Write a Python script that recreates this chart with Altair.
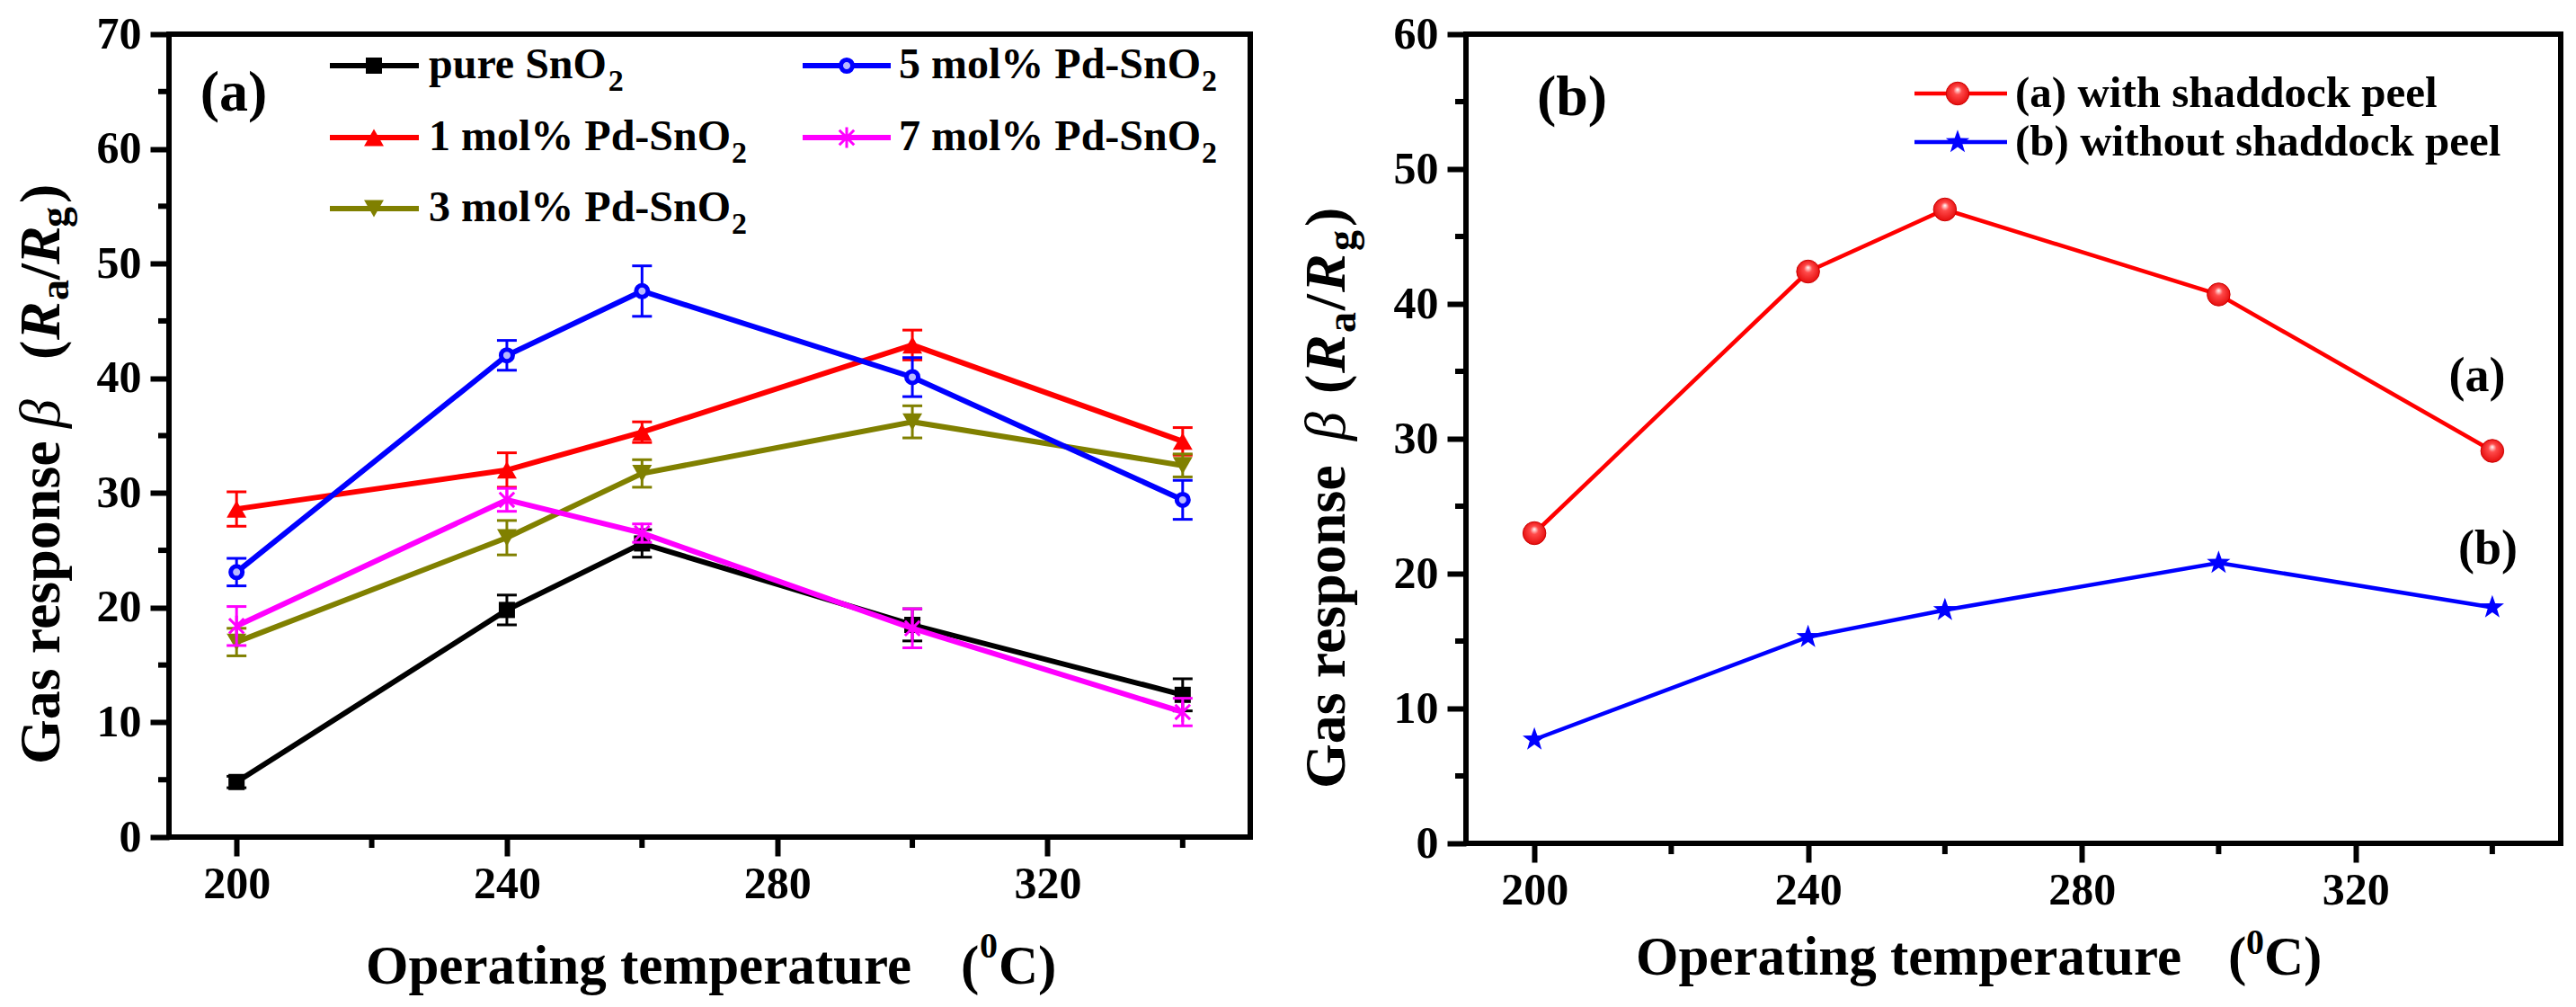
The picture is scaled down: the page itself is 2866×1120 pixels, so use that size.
import altair as alt
import pandas as pd

# ---------------- data ----------------
temps = [200, 240, 260, 300, 340]

names_a = ["pure SnO₂", "1 mol% Pd-SnO₂", "3 mol% Pd-SnO₂", "5 mol% Pd-SnO₂", "7 mol% Pd-SnO₂"]
resp_pure = [4.8, 19.8, 25.6, 18.5, 12.4]
resp_pd1 = [28.6, 32.0, 35.3, 42.9, 34.5]
resp_pd3 = [17.0, 26.1, 31.7, 36.2, 32.4]
resp_pd5 = [23.1, 42.0, 47.6, 40.1, 29.4]
resp_pd7 = [18.4, 29.4, 26.5, 18.2, 10.9]
err_pure = [0.5, 1.3, 1.2, 1.4, 1.4]
err_pd1 = [1.5, 1.5, 0.9, 1.3, 1.2]
err_pd3 = [1.2, 1.5, 1.2, 1.4, 1.0]
err_pd5 = [1.2, 1.3, 2.2, 1.7, 1.7]
err_pd7 = [1.7, 1.0, 0.8, 1.7, 1.2]

names_b = ["(a) with shaddock peel", "(b) without shaddock peel"]
resp_with = [23.0, 42.4, 47.0, 40.7, 29.1]
resp_without = [7.7, 15.3, 17.3, 20.8, 17.5]

x_major = [200, 240, 280, 320]
x_minor = [220, 260, 300, 340]
y_major_a = [0, 10, 20, 30, 40, 50, 60, 70]
y_minor_a = [5, 15, 25, 35, 45, 55, 65]
y_major_b = [0, 10, 20, 30, 40, 50, 60]
y_minor_b = [5, 15, 25, 35, 45, 55]

# ---------------- style ----------------
FONT = "Liberation Serif"
BLACK, RED, OLIVE, BLUE, MAGENTA = "#000000", "#FF0000", "#808000", "#0000FF", "#FF00FF"
ASTERISK = "M0,-1L0,1M-0.72,-0.72L0.72,0.72M-0.72,0.72L0.72,-0.72"
STAR = ("M0,-1L0.235,-0.324L0.951,-0.309L0.380,0.124L0.588,0.809L0,0.4"
        "L-0.588,0.809L-0.380,0.124L-0.951,-0.309L-0.235,-0.324Z")
SPHERE = {"gradient": "radial", "x1": 0.5, "y1": 0.32, "x2": 0.5, "y2": 0.5,
          "r1": 0, "r2": 0.6,
          "stops": [{"offset": 0, "color": "#ffffff"},
                    {"offset": 0.3, "color": "#ff4a4a"},
                    {"offset": 1, "color": "#e00000"}]}
# advance widths (em) of the bold serif font, used to place the legend subscripts
BOLD_W = {"p": .556, "u": .556, "r": .444, "e": .444, " ": .25, "S": .556, "n": .556,
          "O": .778, "1": .5, "3": .5, "5": .5, "7": .5, "m": .833, "o": .5, "l": .278,
          "%": 1.0, "P": .611, "d": .556, "-": .333}

WA, HA = 1203, 893
WB, HB = 1218, 900
TICK_MAJOR, TICK_MINOR = 21, 12

dummy = pd.DataFrame({"d": [0]})


def txt(text, x, y, size, align="left", baseline="alphabetic", angle=0,
        style="normal", weight="bold"):
    kw = dict(text=text, font=FONT, fontSize=size, fontWeight=weight,
              fontStyle=style, align=align, baseline=baseline, color="black")
    if angle:
        kw["angle"] = angle
    return alt.Chart(dummy).mark_text(**kw).encode(x=alt.value(x), y=alt.value(y))


def make_axis(vals, pad):
    return alt.Axis(values=vals, tickSize=TICK_MAJOR, tickWidth=6, tickColor="black",
                    domain=False, grid=False, title=None,
                    labelFont=FONT, labelFontWeight="bold", labelFontSize=50,
                    labelColor="black", labelPadding=pad, labelFlush=False,
                    labelOverlap=False)


class Panel:
    def __init__(self, xdom, ydom, yvals):
        self.xs = alt.Scale(domain=xdom, nice=False, zero=False)
        self.ys = alt.Scale(domain=ydom, nice=False)
        self.xa = make_axis(x_major, 6)
        self.ya = make_axis(yvals, 10)

    def X(self, f):
        return alt.X(f, scale=self.xs, axis=self.xa)

    def Y(self, f):
        return alt.Y(f, scale=self.ys, axis=self.ya)


def minor_ticks(p, xvals, yvals, h):
    dx = pd.DataFrame({"v": xvals})
    dy = pd.DataFrame({"v": yvals})
    return [
        alt.Chart(dx).mark_rule(color="black", strokeWidth=6).encode(
            x=p.X("v:Q"), y=alt.value(h), y2=alt.value(h + TICK_MINOR)),
        alt.Chart(dy).mark_rule(color="black", strokeWidth=6).encode(
            y=p.Y("v:Q"), x=alt.value(-TICK_MINOR), x2=alt.value(0)),
    ]


def series(p, vals, errs, color, pt, lw):
    cols = {"T": temps, "V": vals}
    if errs is not None:
        cols["E"] = errs
    df = pd.DataFrame(cols)
    base = alt.Chart(df)
    layers = [base.mark_line(color=color, strokeWidth=lw).encode(x=p.X("T:Q"), y=p.Y("V:Q"))]
    if errs is not None:
        eb = base.transform_calculate(lo="datum.V - datum.E", hi="datum.V + datum.E")
        layers.append(eb.mark_rule(color=color, strokeWidth=3).encode(
            x=p.X("T:Q"), y=p.Y("lo:Q"), y2="hi:Q"))
        for f in ["lo", "hi"]:
            layers.append(eb.mark_tick(color=color, orient="horizontal", size=22,
                                       thickness=3, opacity=1).encode(
                x=p.X("T:Q"), y=p.Y(f + ":Q")))
    layers.append(base.mark_point(opacity=1, color=color, **pt).encode(
        x=p.X("T:Q"), y=p.Y("V:Q")))
    return layers


def legend_entry(name, color, pt, x1, x2, xm, xt, y, lw, fsize):
    sub = name.endswith("₂")
    main = name[:-1] if sub else name
    ld = pd.DataFrame({"name": [main]})
    b = alt.Chart(ld)
    out = [
        b.mark_rule(color=color, strokeWidth=lw).encode(
            x=alt.value(x1), x2=alt.value(x2), y=alt.value(y)),
        b.mark_point(opacity=1, color=color, **pt).encode(x=alt.value(xm), y=alt.value(y)),
        b.mark_text(font=FONT, fontSize=fsize, fontWeight="bold", align="left",
                    baseline="middle", color="black").encode(
            x=alt.value(xt), y=alt.value(y), text="name:N"),
    ]
    if sub:
        wid = sum(BOLD_W.get(ch, 0.5) for ch in main) * fsize
        out.append(txt("2", xt + wid + 1, y + 28, 34))
    return out


# ---------------- panel (a) ----------------
pa = Panel([190, 350], [0, 70], y_major_a)

pts_a = [
    dict(shape="square", size=324, filled=True),
    dict(shape="triangle-up", size=480, filled=True),
    dict(shape="triangle-down", size=480, filled=True),
    dict(shape="circle", size=170, filled=True, fill="#b8b8ff", stroke=BLUE, strokeWidth=5),
    dict(shape=ASTERISK, size=520, filled=False, strokeWidth=3),
]
cols_a = [BLACK, RED, OLIVE, BLUE, MAGENTA]
vals_a = [resp_pure, resp_pd1, resp_pd3, resp_pd5, resp_pd7]
errs_a = [err_pure, err_pd1, err_pd3, err_pd5, err_pd7]

layers_a = []
for i in range(5):
    layers_a += series(pa, vals_a[i], errs_a[i], cols_a[i], pts_a[i], 6)
layers_a += minor_ticks(pa, x_minor, y_minor_a, HA)

leg_rows_a = [35, 115, 194]
leg_cols_a = [(179, 278, 228, 289), (705, 803, 754, 812)]
slots_a = [(0, 0), (0, 1), (0, 2), (1, 0), (1, 1)]
for i, (c, r) in enumerate(slots_a):
    x1, x2, xm, xt = leg_cols_a[c]
    layers_a += legend_entry(names_a[i], cols_a[i], pts_a[i], x1, x2, xm, xt,
                             leg_rows_a[r], 6, 48)

layers_a.append(txt("(a)", 72, 66, 64, align="center", baseline="middle"))

# y title (a)
YA = -122
layers_a += [
    txt("Gas response", YA, 812, 64, angle=270),
    txt("β", YA, 438, 64, angle=270, style="italic", weight="normal"),
    txt("(", YA, 362, 64, angle=270),
    txt("R", YA, 340, 64, angle=270, style="italic"),
    txt("a", YA + 10, 296, 46, angle=270),
    txt("/", YA, 273, 64, angle=270),
    txt("R", YA, 256, 64, angle=270, style="italic"),
    txt("g", YA + 10, 215, 46, angle=270),
    txt(")", YA, 188, 64, angle=270),
]
# x title (a)
layers_a += [
    txt("Operating temperature", 826, 1056, 61, align="right"),
    txt("(", 881, 1056, 61),
    txt("0", 902, 1027, 40),
    txt("C)", 923, 1056, 61),
]

panel_a = alt.layer(*layers_a).properties(width=WA, height=HA)

# ---------------- panel (b) ----------------
pb = Panel([190, 350], [0, 60], y_major_b)

pts_b = [
    dict(shape="circle", size=650, filled=True, fill=SPHERE, stroke="#cc0000", strokeWidth=1),
    dict(shape=STAR, size=760, filled=True),
]
cols_b = [RED, BLUE]
vals_b = [resp_with, resp_without]

layers_b = []
for i in range(2):
    layers_b += series(pb, vals_b[i], None, cols_b[i], pts_b[i], 4.5)
layers_b += minor_ticks(pb, x_minor, y_minor_b, HB)

leg_rows_b = [66, 120]
for i in range(2):
    layers_b += legend_entry(names_b[i], cols_b[i], pts_b[i], 499, 602, 547, 611,
                             leg_rows_b[i], 4.5, 49)

layers_b.append(txt("(b)", 118, 71, 64, align="center", baseline="middle"))
layers_b.append(txt("(a)", 1125, 381, 54, align="center", baseline="middle"))
layers_b.append(txt("(b)", 1137, 573, 54, align="center", baseline="middle"))

YB = -135
layers_b += [
    txt("Gas response", YB, 839, 64, angle=270),
    txt("β", YB, 452, 64, angle=270, style="italic", weight="normal"),
    txt("(", YB, 400, 64, angle=270),
    txt("R", YB, 377, 64, angle=270, style="italic"),
    txt("a", YB + 12, 332, 46, angle=270),
    txt("/", YB, 307, 64, angle=270),
    txt("R", YB, 287, 64, angle=270, style="italic"),
    txt("g", YB + 12, 241, 46, angle=270),
    txt(")", YB, 214, 64, angle=270),
]
layers_b += [
    txt("Operating temperature", 796, 1046, 61, align="right"),
    txt("(", 848, 1046, 61),
    txt("0", 868, 1023, 40),
    txt("C)", 888, 1046, 61),
]

panel_b = alt.layer(*layers_b).properties(width=WB, height=HB)

chart = alt.hconcat(panel_a, panel_b, spacing=48).properties(
    padding={"left": 4, "top": 2, "right": 0, "bottom": 0},
    background="white",
).configure_view(stroke="black", strokeWidth=6)

chart.save("out.html", embed_options={"renderer": "svg", "actions": False})
